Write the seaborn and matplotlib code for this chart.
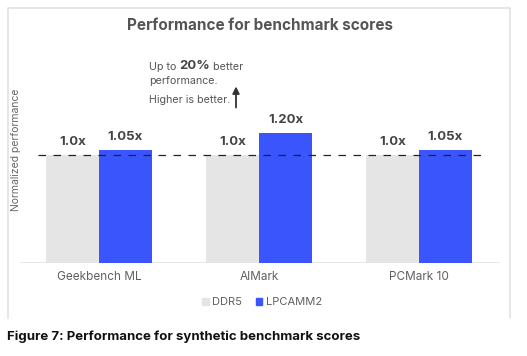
import matplotlib
matplotlib.use("Agg")
import matplotlib.pyplot as plt
import matplotlib.patches as mpatches
import matplotlib.lines as mlines
import pandas as pd
import seaborn as sns

# ======================================
# Data
# ======================================

benchmarks = ["Geekbench ML", "AIMark", "PCMark 10"]
series = ["DDR5", "LPCAMM2"]
ddr5 = [1.0, 1.0, 1.0]
lpcamm2 = [1.05, 1.20, 1.05]
ddr5_labels = ["1.0x", "1.0x", "1.0x"]
lpcamm2_labels = ["1.05x", "1.20x", "1.05x"]

df = pd.DataFrame({
    "benchmark": benchmarks * 2,
    "memory": [series[0]] * 3 + [series[1]] * 3,
    "score": ddr5 + lpcamm2,
})

colors = {"DDR5": "#e5e5e5", "LPCAMM2": "#3a55fb"}

# ======================================
# Plot
# ======================================

sns.set_style("white")
plt.rcParams["font.family"] = ["Inter", "DejaVu Sans"]

fig = plt.figure(figsize=(5.27, 3.56), dpi=100)
W, H = 527, 356
ax = fig.add_axes([20 / W, (H - 263) / H, 480 / W, 203 / H])

sns.barplot(
    data=df, x="benchmark", y="score", hue="memory",
    palette=colors, saturation=1, width=0.66, ax=ax, legend=False,
    edgecolor="none", linewidth=0,
)

ax.set_xlim(-0.494, 2.506)
ax.set_ylim(0, 1.88)
sns.despine(ax=ax, left=True, top=True, right=True, bottom=True)
ax.axhline(0, color="#e3e3e3", lw=1.2, zorder=0)
ax.set_yticks([])
ax.set_xlabel("")
ax.set_ylabel("")
ax.tick_params(axis="x", length=0, pad=6, labelsize=8.5, labelcolor="#606060")

# baseline reference
ax.hlines(1.0, -0.381, 2.394, colors="#222222", linestyles=(0, (6, 6)),
          lw=0.9, zorder=5)

# value labels
for cont, labels in zip(ax.containers, [ddr5_labels, lpcamm2_labels]):
    ax.bar_label(cont, labels=labels, padding=5, fontsize=9.5,
                 fontweight="bold", color="#444444")

# annotation
txt_kw = dict(fontsize=7.7, color="#555555", va="center", ha="left")
t1 = ax.text(0.3125, 1.815, "Up to ", **txt_kw)
fig.canvas.draw()
r = fig.canvas.get_renderer()
bb = t1.get_window_extent(r)
inv = ax.transData.inverted()
x2 = inv.transform((bb.x1, 0))[0]
t2 = ax.text(x2, 1.825, "20%", fontsize=9.5, fontweight="bold",
             color="#444444", va="center", ha="left")
bb2 = t2.get_window_extent(r)
x3 = inv.transform((bb2.x1, 0))[0]
ax.text(x3, 1.815, " better", **txt_kw)
ax.text(0.3125, 1.685, "performance.", **txt_kw)
ax.text(0.3125, 1.509, "Higher is better.", **txt_kw)
ax.annotate("", xy=(0.856, 1.635), xytext=(0.856, 1.44),
            arrowprops=dict(arrowstyle="-|>", color="#333333", lw=1.3,
                            mutation_scale=10, shrinkA=0, shrinkB=0))

# legend
handles = [mpatches.Patch(color=colors[s], label=s) for s in series]
fig.legend(handles=handles, loc="center", bbox_to_anchor=(262 / W, 1 - 302 / H),
           ncol=2, frameon=False, fontsize=8, handlelength=0.6,
           handleheight=0.6, handletextpad=0.3, columnspacing=1.2,
           labelcolor="#606060")

# title and axis label
fig.text(260 / W, 1 - 26 / H, "Performance for benchmark scores",
         ha="center", va="center", fontsize=11, fontweight="bold",
         color="#555555")
fig.text(16 / W, 1 - 150 / H, "Normalized performance", rotation=90,
         ha="center", va="center", fontsize=7.5, color="#666666")

# panel border (left, top, right)
bx = [7.5 / W, 7.5 / W, 510 / W, 510 / W]
by = [1 - 318 / H, 1 - 8 / H, 1 - 8 / H, 1 - 318 / H]
fig.lines.append(mlines.Line2D(bx, by, transform=fig.transFigure,
                               color="#e2e2e2", lw=1.2))

# caption
fig.text(7 / W, 1 - 337 / H,
         "Figure 7: Performance for synthetic benchmark scores",
         ha="left", va="center", fontsize=9.5, fontweight="bold",
         color="#111111")

plt.savefig("out.png", dpi=100)
